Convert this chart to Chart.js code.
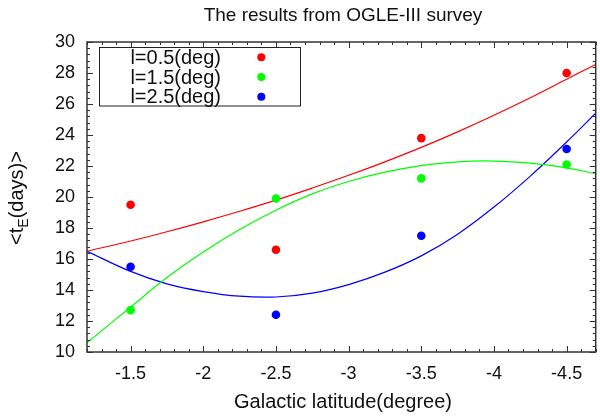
<!DOCTYPE html>
<html>
<head>
<meta charset="utf-8">
<script src="https://cdn.jsdelivr.net/npm/chart.js@4"></script>
<style>
  html, body { margin: 0; padding: 0; background: #fff; }
  #wrap { width: 600px; height: 416px; }
</style>
</head>
<body>
<div id="wrap"><canvas id="chart" width="600" height="416"></canvas></div>
<script>
// measured <tE> per galactic latitude b, for three longitudes
const latitudes = [-1.5, -2.5, -3.5, -4.5];
const tE_l05 = [19.5, 16.6, 23.8, 28.0];
const tE_l15 = [12.7, 19.9, 21.2, 22.1];
const tE_l25 = [15.5, 12.4, 17.5, 23.1];

// fitted curves, values
const fitLatitudes = [-1.2, -1.5, -1.75, -2.0, -2.25, -2.5, -2.75, -3.0, -3.25, -3.5, -3.75, -4.0, -4.25, -4.5, -4.7];
const fit_l05 = [16.5, 17.16, 17.76, 18.4, 19.08, 19.8, 20.58, 21.4, 22.27, 23.2, 24.2, 25.27, 26.4, 27.6, 28.55];
const fit_l15 = [10.6, 12.9, 14.8, 16.45, 17.9, 19.15, 20.2, 21.0, 21.6, 22.02, 22.27, 22.32, 22.18, 21.88, 21.5];
const fit_l25 = [16.5, 15.2, 14.4, 13.9, 13.6, 13.55, 13.8, 14.35, 15.15, 16.2, 17.6, 19.35, 21.35, 23.55, 25.4];

const seriesLabels = ['l=0.5(deg)', 'l=1.5(deg)', 'l=2.5(deg)'];
const seriesColors = ['#ff0000', '#00ff00', '#0000ff'];
const xTicks = [-1.5, -2, -2.5, -3, -3.5, -4, -4.5];
const yTicks = [10, 12, 14, 16, 18, 20, 22, 24, 26, 28, 30];

const FONT = '"Liberation Sans", Arial, sans-serif';

const toXY = (xs, ys) => xs.map((v, i) => ({ x: v, y: ys[i] }));

const pointSets = [tE_l05, tE_l15, tE_l25].map((ys, i) => ({
  label: seriesLabels[i],
  data: toXY(latitudes, ys),
  backgroundColor: seriesColors[i],
  borderColor: seriesColors[i],
  pointRadius: 4.3,
  pointBorderWidth: 0,
  showLine: false
}));

const fitSets = [fit_l05, fit_l15, fit_l25].map((ys, i) => ({
  label: 'fit ' + seriesLabels[i],
  data: toXY(fitLatitudes, ys),
  borderColor: seriesColors[i],
  borderWidth: 1.2,
  pointRadius: 0,
  showLine: true,
  tension: 0.4
}));

// gnuplot style frame: border, inward ticks on all four sides, titles, key box
const gnuFrame = {
  id: 'gnuFrame',
  afterDraw(chart) {
    const { ctx, chartArea: a, scales: { x, y } } = chart;
    ctx.save();

    ctx.strokeStyle = '#333';
    ctx.lineWidth = 1;
    ctx.beginPath();
    for (let i = 0; i <= 35; i++) {
      const v = -1.2 - i * 0.1;
      const px = Math.round(x.getPixelForValue(v)) + 0.5;
      const major = Math.abs(v * 2 - Math.round(v * 2)) < 1e-6;
      const len = major ? 6 : 3;
      ctx.moveTo(px, a.bottom); ctx.lineTo(px, a.bottom - len);
      ctx.moveTo(px, a.top); ctx.lineTo(px, a.top + len);
    }
    for (let i = 0; i <= 50; i++) {
      const v = 10 + i * 0.4;
      const py = Math.round(y.getPixelForValue(v)) + 0.5;
      const major = i % 5 === 0;
      const len = major ? 6 : 3;
      ctx.moveTo(a.left, py); ctx.lineTo(a.left + len, py);
      ctx.moveTo(a.right, py); ctx.lineTo(a.right - len, py);
    }
    ctx.stroke();

    ctx.lineWidth = 1.5;
    ctx.strokeRect(a.left, a.top, a.right - a.left, a.bottom - a.top);

    // titles
    ctx.fillStyle = '#111';
    ctx.textAlign = 'center';
    ctx.textBaseline = 'alphabetic';
    ctx.font = '19px ' + FONT;
    ctx.fillText('The results from OGLE-III survey', 343, 20.5);
    ctx.font = '20px ' + FONT;
    ctx.fillText('Galactic latitude(degree)', 343, 408);

    // y title with subscript E
    ctx.save();
    ctx.translate(23, 198);
    ctx.rotate(-Math.PI / 2);
    const main = '20px ' + FONT, sub = '14px ' + FONT;
    ctx.font = main;
    const w1 = ctx.measureText('<t').width;
    const w3 = ctx.measureText('(days)>').width;
    ctx.font = sub;
    const w2 = ctx.measureText('E').width;
    let cx = -(w1 + w2 + w3) / 2;
    ctx.textAlign = 'left';
    ctx.font = main;
    ctx.fillText('<t', cx, 0); cx += w1;
    ctx.font = sub;
    ctx.fillText('E', cx, 5); cx += w2;
    ctx.font = main;
    ctx.fillText('(days)>', cx, 0);
    ctx.restore();

    // key
    ctx.fillStyle = '#fff';
    ctx.fillRect(99.5, 47.5, 201, 58.5);
    ctx.strokeStyle = '#222';
    ctx.lineWidth = 1;
    ctx.strokeRect(99.5, 47.5, 201, 58.5);
    ctx.font = '20px ' + FONT;
    ctx.textAlign = 'right';
    const rows = [57.3, 77, 96.7];
    pointSets.forEach((ds, i) => {
      ctx.fillStyle = '#111';
      ctx.textBaseline = 'middle';
      ctx.fillText(ds.label, 221, rows[i] + 1);
      ctx.fillStyle = ds.backgroundColor;
      ctx.beginPath();
      ctx.arc(261.3, rows[i], 4, 0, Math.PI * 2);
      ctx.fill();
    });

    ctx.restore();
  }
};

new Chart(document.getElementById('chart'), {
  type: 'scatter',
  data: { datasets: [...pointSets, ...fitSets] },
  plugins: [gnuFrame],
  options: {
    responsive: false,
    animation: false,
    layout: { padding: { top: 42, right: 2, left: 0, bottom: 0 } },
    plugins: { legend: { display: false }, tooltip: { enabled: false } },
    scales: {
      x: {
        type: 'linear',
        min: -4.7,
        max: -1.2,
        reverse: true,
        grid: { display: false },
        border: { display: false },
        afterBuildTicks: s => { s.ticks = xTicks.map(v => ({ value: v })); },
        afterFit: s => { s.height = 64; },
        ticks: {
          padding: 3,
          color: '#111',
          font: { family: FONT, size: 18 },
          callback: v => String(v)
        }
      },
      y: {
        min: 10,
        max: 30,
        grid: { display: false },
        border: { display: false },
        afterBuildTicks: s => { s.ticks = yTicks.map(v => ({ value: v })); },
        afterFit: s => { s.width = 87; },
        ticks: {
          padding: 4,
          color: '#111',
          font: { family: FONT, size: 18 },
          callback: v => String(v)
        }
      }
    }
  }
});
</script>
</body>
</html>
